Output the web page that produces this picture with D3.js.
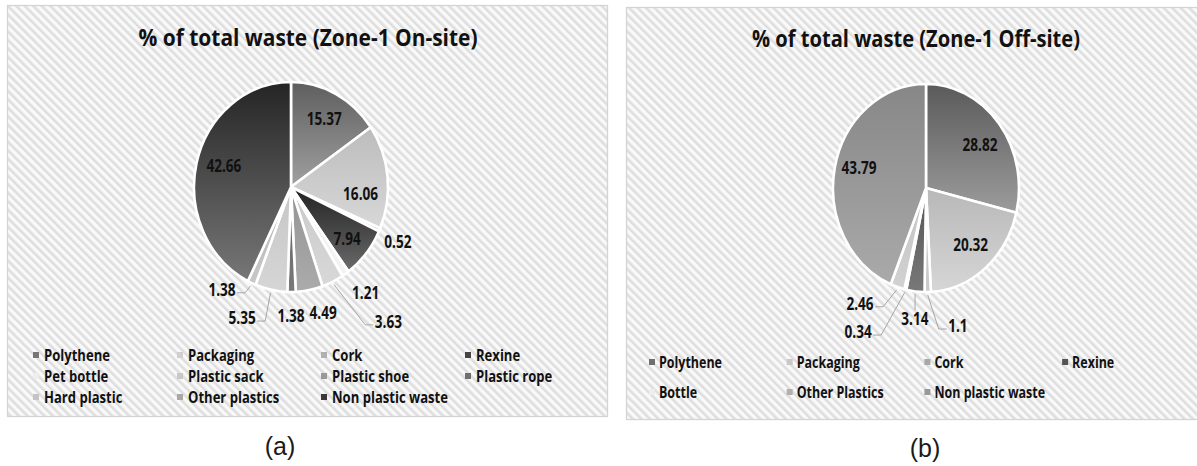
<!DOCTYPE html>
<html><head><meta charset="utf-8">
<script src="https://cdn.jsdelivr.net/npm/d3@7"></script>
<style>
html,body{margin:0;padding:0;background:#fff;}
svg{display:block;}
</style></head>
<body>
<svg id="c" width="1197" height="466"></svg>
<script>
// ---------- DATA ----------
const titleA = "% of total waste (Zone-1 On-site)";
const categoriesA = ["Polythene","Packaging","Cork","Rexine","Pet bottle","Plastic sack","Plastic shoe","Plastic rope","Hard plastic","Other plastics","Non plastic waste"];
const valuesA = [15.37,16.06,0.52,7.94,1.21,3.63,4.49,1.38,5.35,1.38,42.66];

const titleB = "% of total waste (Zone-1 Off-site)";
const categoriesB = ["Polythene","Packaging","Cork","Rexine","Bottle","Other Plastics","Non plastic waste"];
const valuesB = [28.82,20.32,1.1,3.14,0.34,2.46,43.79];

const captions = ["(a)","(b)"];

// ---------- STYLE / LAYOUT ----------
const colorsA = [["#5e5e5e","#a0a0a0"],["#bcbcbc","#d8d8d8"],["#a8a8a8","#c4c4c4"],["#222222","#6a6a6a"],["#ececec","#f4f4f4"],["#cacaca","#d8d8d8"],["#939393","#ababab"],["#5e5e5e","#7a7a7a"],["#c6c6c6","#d6d6d6"],["#b4b4b4","#c8c8c8"],["#252525","#777777"]];
const legendA = ["#777777","#d0d0d0","#b0b0b0","#444444","#eeeeee","#c8c8c8","#999999","#707070","#c4c4c4","#a8a8a8","#3a3a3a"];
const colorsB = [["#5a5a5a","#9c9c9c"],["#b8b8b8","#d6d6d6"],["#bcbcbc","#cccccc"],["#555555","#787878"],["#ececec","#f4f4f4"],["#c2c2c2","#d2d2d2"],["#878787","#aaaaaa"]];
const legendB = ["#707070","#c8c8c8","#a8a8a8","#555555","#eeeeee","#b0b0b0","#999999"];

// label placement: [angle deg, radial factor, leader]
const labelPosA = [[28,.73,0],[95,.72,0],[115.4,1.22,0],[130.4,.76,0],[142.7,1.27,0],[142,1.63,1],[164.6,1.245,0],[180,1.23,0],[202,1.346,1],[216,1.21,1],[286,.72,0]];
const labelPosB = [[54.6,.713,0],[138.8,.729,0],[165.5,1.371,1],[185.4,1.265,1],[207.8,1.566,1],[212.5,1.32,1],[285,.745,0]];

const svg = d3.select("#c");
const defs = svg.append("defs");

// hatch pattern
const pat = defs.append("pattern").attr("id","hatch").attr("patternUnits","userSpaceOnUse")
  .attr("width",6).attr("height",6).attr("patternTransform","rotate(-45)");
pat.append("rect").attr("width",6).attr("height",6).attr("fill","#f9f9f9");
pat.append("rect").attr("width",2.6).attr("height",6).attr("fill","#dedede");

const fontB = "'Open Sans', Lato, sans-serif";

function measure(txt, size){
  const t = svg.append("text").attr("font-family",fontB).attr("font-weight","bold").attr("font-size",size).text(txt);
  const w = t.node().getComputedTextLength(); t.remove(); return w;
}
const kLegA = 66 / measure("Polythene",16);
const kLegB = 63 / measure("Polythene",16);
const kLab = 35 / measure("42.66",17);

function drawPanel(cfg){
  const g = svg.append("g");
  g.append("rect").attr("x",cfg.px).attr("y",cfg.py).attr("width",cfg.pw).attr("height",cfg.ph)
    .attr("fill","url(#hatch)").attr("stroke","#d4d4d4").attr("stroke-width",1.3);
  g.append("text").attr("x",cfg.tx).attr("y",cfg.ty).attr("text-anchor","middle")
    .attr("font-family",fontB).attr("font-weight","bold").attr("font-size",24).attr("fill","#111")
    .attr("textLength",cfg.tw).attr("lengthAdjust","spacingAndGlyphs").text(cfg.title);

  const pie = d3.pie().sort(null).value(d=>d)(cfg.values);
  const R = cfg.ry, sx = cfg.rx/cfg.ry;
  const arc = d3.arc().innerRadius(0).outerRadius(R);
  pie.forEach((p,i)=>{
    const id = cfg.id+"g"+i;
    const lg = defs.append("linearGradient").attr("id",id).attr("x1",0).attr("y1",0).attr("x2",0).attr("y2",1);
    lg.append("stop").attr("offset","0%").attr("stop-color",cfg.colors[i][0]);
    lg.append("stop").attr("offset","100%").attr("stop-color",cfg.colors[i][1]);
  });
  const pg = g.append("g").attr("transform",`translate(${cfg.cx},${cfg.cy}) scale(${sx},1)`);
  pg.selectAll("path").data(pie).join("path").attr("d",arc)
    .attr("fill",(d,i)=>`url(#${cfg.id}g${i})`).attr("stroke","#fff").attr("stroke-width",2.6)
    .attr("vector-effect","non-scaling-stroke");

  const pt = (angDeg, r)=>{ const a = angDeg*Math.PI/180; return [cfg.cx + cfg.rx*r*Math.sin(a), cfg.cy - cfg.ry*r*Math.cos(a)]; };

  pie.forEach((p,i)=>{
    const [ang, rf, leader] = cfg.labelPos[i];
    const [x,y] = pt(ang, rf);
    const txt = String(cfg.values[i]);
    const t = g.append("text").attr("transform",`translate(${x},${y}) scale(${kLab},1)`)
      .attr("text-anchor","middle").attr("dy","0.36em")
      .attr("font-family",fontB).attr("font-weight","bold").attr("font-size",17).attr("fill","#111").text(txt);
    if(leader){
      const w = t.node().getComputedTextLength()*kLab;
      const mid = (p.startAngle+p.endAngle)/2*180/Math.PI;
      const s = pt(mid, 1.03);
      let pts;
      if(Math.abs(x - s[0]) < 10){
        pts = [s,[s[0], y-9]];
      } else if(x > s[0]){
        const e = [x - w/2 - 1.5, y+3];
        pts = [s,[e[0]-8,e[1]],e];
      } else {
        const e = [x + w/2 + 1.5, y+3];
        pts = [s,[e[0]+8,e[1]],e];
      }
      g.append("path").attr("d",d3.line()(pts)).attr("fill","none").attr("stroke","#a6a6a6").attr("stroke-width",1);
    }
  });

  // legend
  cfg.categories.forEach((c,i)=>{
    const col = i % 4, row = Math.floor(i/4);
    const mx = cfg.lx + col*cfg.lcol, my = cfg.ly + row*cfg.lrow;
    g.append("rect").attr("x",mx).attr("y",my-3).attr("width",6).attr("height",6).attr("fill",cfg.legend[i]);
    g.append("text").attr("transform",`translate(${mx+cfg.ltx},${my}) scale(${cfg.kLeg},1)`).attr("dy","0.36em")
      .attr("font-family",fontB).attr("font-weight","bold").attr("font-size",16).attr("fill","#111").text(c);
  });

  svg.append("text").attr("x",cfg.capx).attr("y",cfg.capy).attr("text-anchor","middle")
    .attr("font-family","'Liberation Sans', Arial, sans-serif").attr("font-size",25).attr("fill","#1a1a1a").text(cfg.caption);
}

drawPanel({id:"a", px:7.5, py:5.5, pw:600, ph:411, tx:308, ty:46, tw:339, title:titleA,
  values:valuesA, categories:categoriesA, colors:colorsA, legend:legendA, labelPos:labelPosA,
  cx:291, cy:187, rx:97, ry:105, lx:33, ly:355, lcol:144, lrow:21, ltx:11, kLeg:kLegA,
  capx:280, capy:455, caption:captions[0]});
drawPanel({id:"b", px:626.5, py:7.5, pw:580, ph:412, tx:916, ty:47, tw:328, title:titleB,
  values:valuesB, categories:categoriesB, colors:colorsB, legend:legendB, labelPos:labelPosB,
  cx:926, cy:188, rx:93, ry:104, lx:649, ly:362, lcol:137.7, lrow:30, ltx:10, kLeg:kLegB,
  capx:925, capy:457, caption:captions[1]});
</script>
</body></html>
